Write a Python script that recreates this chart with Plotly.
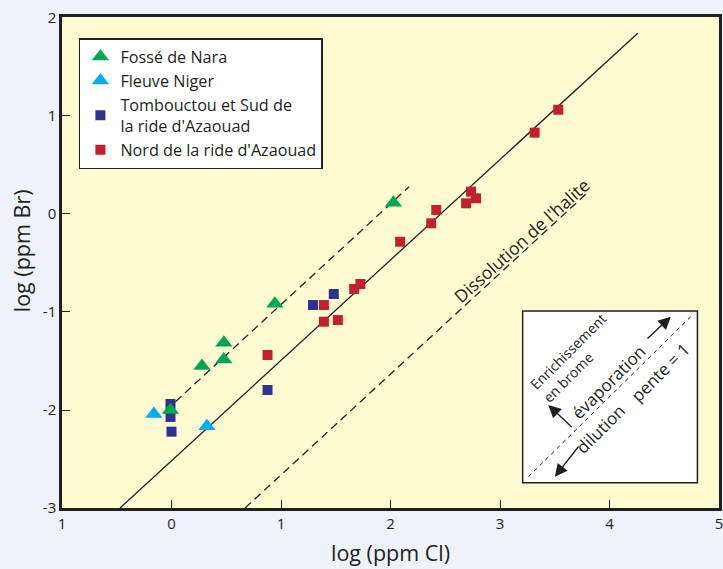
import plotly.graph_objects as go

# ---- data (log ppm Cl, log ppm Br) ----
nara_x = [-0.01, 0.278, 0.478, 0.478, 0.944, 2.027]
nara_y = [-2.0, -1.55, -1.315, -1.485, -0.915, 0.115]

niger_x = [-0.161, 0.323]
niger_y = [-2.04, -2.165]

tomb_x = [-0.009, -0.009, 0.0, 0.877, 1.292, 1.482]
tomb_y = [-1.939, -2.071, -2.221, -1.796, -0.929, -0.816]

nord_x = [0.877, 1.392, 1.392, 1.519, 1.668, 1.725, 2.088, 2.372, 2.418, 2.690, 2.735, 2.781, 3.316, 3.532]
nord_y = [-1.439, -0.929, -1.099, -1.082, -0.765, -0.714, -0.283, -0.095, 0.041, 0.109, 0.228, 0.160, 0.830, 1.064]

# reference lines (slope ~1)
sea_line_x = [-0.47, 4.258]
sea_line_y = [-3.0, 1.844]
upper_dash_x = [0.036, 2.170]
upper_dash_y = [-1.915, 0.279]
halite_x = [0.672, 3.809]
halite_y = [-3.0, 0.228]

x_tickvals = [-1, 0, 1, 2, 3, 4, 5]
x_ticktext = ["1", "0", "1", "2", "3", "4", "5"]
y_tickvals = [-3, -2, -1, 0, 1, 2]
y_ticktext = ["-3", "-2", "-1", "0", "1", "2"]

INK = "#231f20"
FONT = "Open Sans"

fig = go.Figure()

fig.add_trace(go.Scatter(x=sea_line_x, y=sea_line_y, mode="lines",
                         line=dict(color=INK, width=1.3), showlegend=False, hoverinfo="skip"))
fig.add_trace(go.Scatter(x=upper_dash_x, y=upper_dash_y, mode="lines",
                         line=dict(color=INK, width=1.3, dash="8px,5px"), showlegend=False, hoverinfo="skip"))
fig.add_trace(go.Scatter(x=halite_x, y=halite_y, mode="lines",
                         line=dict(color=INK, width=1.3, dash="8px,5px"), showlegend=False, hoverinfo="skip"))

fig.add_trace(go.Scatter(x=nord_x, y=nord_y, mode="markers", name="Nord de la ride d'Azaouad",
                         marker=dict(symbol="square", size=10, color="#c1202f"), legendrank=4))
fig.add_trace(go.Scatter(x=tomb_x, y=tomb_y, mode="markers", name="Tombouctou et Sud de<br>la ride d'Azaouad",
                         marker=dict(symbol="square", size=10, color="#2e3192"), legendrank=3))
fig.add_trace(go.Scatter(x=niger_x, y=niger_y, mode="markers", name="Fleuve Niger",
                         marker=dict(symbol="triangle-up", size=15, color="#00aeef"), legendrank=2))
fig.add_trace(go.Scatter(x=nara_x, y=nara_y, mode="markers", name="Fossé de Nara",
                         marker=dict(symbol="triangle-up", size=15, color="#00a651"), legendrank=1))

# inset box
fig.add_shape(type="rect", x0=3.207, x1=4.803, y0=-2.742, y1=-0.990, xref="x", yref="y",
              fillcolor="white", line=dict(color=INK, width=1.5), layer="above")
fig.add_shape(type="line", x0=3.259, y0=-2.681, x1=4.757, y1=-1.031, xref="x", yref="y",
              line=dict(color=INK, width=1, dash="4px,4px"), layer="above")

arrows = [
    (4.333, -1.286, 4.560, -1.048),
    (3.728, -2.357, 3.501, -2.681),
    (3.668, -2.187, 3.441, -1.949),
]
for tx, ty, hx, hy in arrows:
    fig.add_annotation(x=hx, y=hy, ax=tx, ay=ty, xref="x", yref="y", axref="x", ayref="y",
                       text="", showarrow=True, arrowhead=2, arrowsize=1.8, arrowwidth=1.4,
                       arrowcolor=INK)

def label(text, x, y, size, angle, align="center"):
    fig.add_annotation(x=x, y=y, xref="x", yref="y", text=text, showarrow=False,
                       textangle=angle, align=align,
                       font=dict(family=FONT, size=size, color=INK))

label("Enrichissement<br>en brome", 3.68, -1.46, 14, -45, align="left")
label("évaporation", 3.997, -1.714, 17, -45)
label("dilution", 3.909, -2.194, 17, -45)
label("pente = 1", 4.460, -1.615, 17, -45)
label("Dissolution de l'halite", 3.199, -0.265, 17.5, -42)

fig.update_layout(
    width=723, height=569,
    margin=dict(l=62, r=0, t=17, b=61),
    paper_bgcolor="#eff2fa",
    plot_bgcolor="#fffbd1",
    font=dict(family=FONT, size=15, color=INK),
    showlegend=True,
    legend=dict(x=(79 - 62) / 661, y=(508 - 38) / 491, xanchor="left", yanchor="top",
                bgcolor="white", bordercolor=INK, borderwidth=1.5,
                font=dict(family=FONT, size=16.2, color=INK),
                traceorder="normal"),
    xaxis=dict(range=[-1, 5.0], tickvals=x_tickvals, ticktext=x_ticktext,
               ticks="inside", ticklen=8, tickwidth=1.2, tickcolor=INK,
               showline=True, linecolor=INK, linewidth=2.5, mirror=True,
               showgrid=False, zeroline=False, ticklabeloverflow="allow",
               tickfont=dict(family=FONT, size=15, color=INK)),
    yaxis=dict(range=[-3, 2.01], tickvals=y_tickvals, ticktext=y_ticktext,
               ticks="inside", ticklen=8, tickwidth=1.2, tickcolor=INK,
               showline=True, linecolor=INK, linewidth=2.5, mirror=True,
               showgrid=False, zeroline=False, ticklabeloverflow="allow",
               tickfont=dict(family=FONT, size=15, color=INK)),
)

# axis titles
fig.add_annotation(x=0.5, y=-(552 - 508) / 491, xref="paper", yref="paper", text="log (ppm Cl)",
                   showarrow=False, xanchor="center", yanchor="middle",
                   font=dict(family=FONT, size=21.5, color=INK))
fig.add_annotation(x=-(62 - 21) / 661, y=(508 - 251) / 491, xref="paper", yref="paper",
                   text="log (ppm Br)", textangle=-90, showarrow=False,
                   xanchor="center", yanchor="middle",
                   font=dict(family=FONT, size=21.5, color=INK))

fig.write_html("out.html", config={"displayModeBar": False},
               post_script="document.body.style.margin='0';")
